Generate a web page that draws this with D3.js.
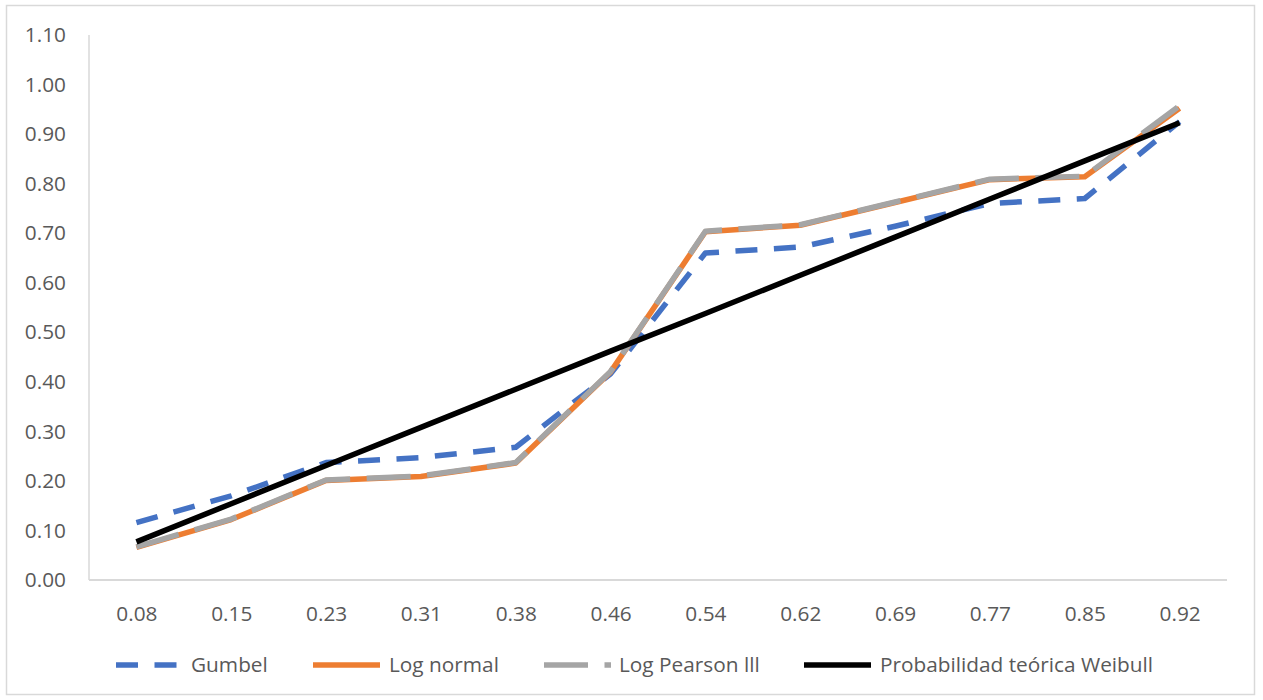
<!DOCTYPE html>
<html>
<head>
<meta charset="utf-8">
<script src="https://cdn.jsdelivr.net/npm/d3@7"></script>
<style>
  html, body { margin: 0; padding: 0; background: #ffffff; }
  svg { display: block; }
  text { font-family: "Open Sans", sans-serif; fill: #595959; }
</style>
</head>
<body>
<svg id="chart" width="1263" height="700"></svg>
<script>
// Weibull plotting positions (m / (n + 1), n = 12) used as categories
const categories = ["0.08", "0.15", "0.23", "0.31", "0.38", "0.46", "0.54", "0.62", "0.69", "0.77", "0.85", "0.92"];

// Fitted non-exceedance probabilities per distribution
const gumbel      = [0.116, 0.170, 0.237, 0.247, 0.268, 0.416, 0.660, 0.672, 0.714, 0.760, 0.770, 0.925];
const logNormal   = [0.066, 0.122, 0.201, 0.209, 0.236, 0.420, 0.703, 0.716, 0.762, 0.808, 0.814, 0.952];
const logPearson  = [0.067, 0.123, 0.202, 0.210, 0.237, 0.421, 0.704, 0.717, 0.763, 0.809, 0.815, 0.957];
const weibull     = [0.077, 0.154, 0.231, 0.308, 0.385, 0.462, 0.538, 0.615, 0.692, 0.769, 0.846, 0.923];

const yTicks = [0, 0.1, 0.2, 0.3, 0.4, 0.5, 0.6, 0.7, 0.8, 0.9, 1.0, 1.1];

const seriesNames = ["Gumbel", "Log normal", "Log Pearson lll", "Probabilidad teórica Weibull"];

const svg = d3.select("#chart");
const FONT = 20.8;

// Outer frame
svg.append("rect")
  .attr("x", 6.5).attr("y", 5.5)
  .attr("width", 1248).attr("height", 689)
  .attr("fill", "#ffffff")
  .attr("stroke", "#d9d9d9").attr("stroke-width", 1.5);

const plot = { left: 89, right: 1227, top: 35, bottom: 580 };

const x = d3.scalePoint().domain(categories).range([plot.left, plot.right]).padding(0.5);
const y = d3.scaleLinear().domain([0, 1.1]).range([plot.bottom, plot.top]);

// Y axis
const yAxis = svg.append("g")
  .attr("transform", `translate(${plot.left},0)`)
  .call(d3.axisLeft(y).tickValues(yTicks).tickSize(0).tickPadding(23).tickFormat(d3.format(".2f")));
yAxis.select(".domain").remove();
yAxis.selectAll("text").style("font-size", FONT + "px").style("font-family", "'Open Sans', sans-serif").attr("fill", "#595959");

// X axis
const xAxis = svg.append("g")
  .attr("transform", `translate(0,${plot.bottom})`)
  .call(d3.axisBottom(x).tickSize(0).tickPadding(26));
xAxis.select(".domain").remove();
xAxis.selectAll("text").style("font-size", FONT + "px").style("font-family", "'Open Sans', sans-serif").attr("fill", "#595959");

// Axis lines
svg.append("line")
  .attr("x1", plot.left).attr("x2", plot.left)
  .attr("y1", plot.top).attr("y2", plot.bottom)
  .attr("stroke", "#d9d9d9").attr("stroke-width", 1.5);
svg.append("line")
  .attr("x1", plot.left).attr("x2", plot.right)
  .attr("y1", plot.bottom).attr("y2", plot.bottom)
  .attr("stroke", "#d9d9d9").attr("stroke-width", 2);

const line = d3.line()
  .x((d, i) => x(categories[i]))
  .y(d => y(d));

const styles = [
  { data: gumbel,     color: "#4472c4", width: 5.5, dash: "22 16.5" },
  { data: logNormal,  color: "#ed7d31", width: 5.5, dash: null },
  { data: logPearson, color: "#a5a5a5", width: 5.5, dash: "44 16.5" },
  { data: weibull,    color: "#000000", width: 5.5, dash: null }
];

styles.forEach(s => {
  svg.append("path")
    .datum(s.data)
    .attr("d", line)
    .attr("fill", "none")
    .attr("stroke", s.color)
    .attr("stroke-width", s.width)
    .attr("stroke-linejoin", "round")
    .attr("stroke-dasharray", s.dash);
});

// Legend
const legendY = 665;
const legendItems = [
  { x: 116, textX: 191 },
  { x: 313, textX: 389 },
  { x: 544, textX: 619 },
  { x: 804, textX: 880 }
];
const legend = svg.append("g");
legendItems.forEach((it, i) => {
  const s = styles[i];
  legend.append("line")
    .attr("x1", it.x).attr("x2", it.x + 67)
    .attr("y1", legendY).attr("y2", legendY)
    .attr("stroke", s.color)
    .attr("stroke-width", s.width)
    .attr("stroke-dasharray", s.dash);
  legend.append("text")
    .attr("x", it.textX).attr("y", legendY)
    .attr("dy", "0.35em")
    .style("font-size", FONT + "px")
    .text(seriesNames[i]);
});
</script>
</body>
</html>
